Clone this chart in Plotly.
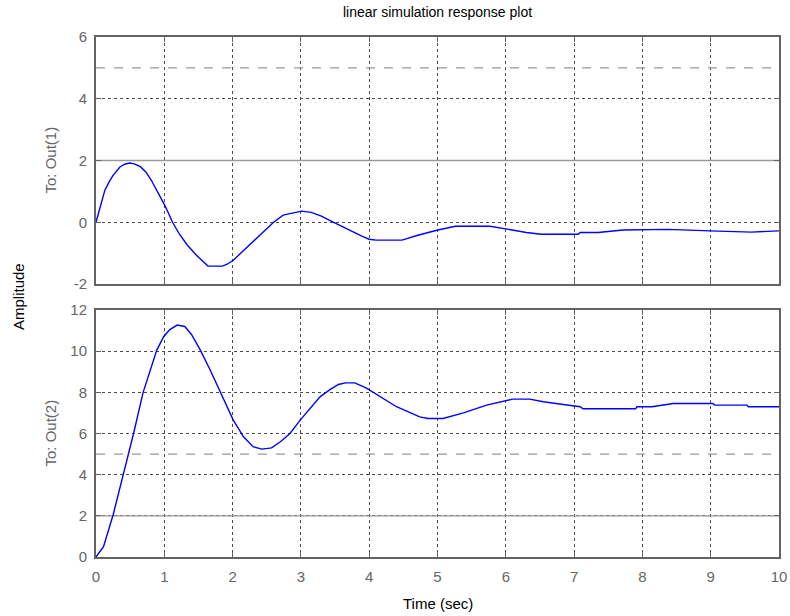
import plotly.graph_objects as go

# ---- data ----
t_out1 = [0, 0.06, 0.13, 0.19, 0.25, 0.35, 0.42, 0.49, 0.56, 0.65, 0.73, 0.81, 0.88, 0.94, 1.0,
          1.06, 1.12, 1.22, 1.33, 1.47, 1.56, 1.64, 1.85, 1.92, 2.01, 2.12, 2.25, 2.45, 2.6, 2.74,
          2.88, 3.01, 3.15, 3.3, 3.45, 3.6, 3.75, 3.9, 4.0, 4.1, 4.48, 4.7, 4.99, 5.15, 5.26,
          5.77, 5.99, 6.3, 6.52, 7.06, 7.09, 7.35, 7.72, 8.37, 8.99, 9.6, 10]
y_out1 = [0, 0.5, 1.04, 1.3, 1.52, 1.79, 1.88, 1.92, 1.89, 1.8, 1.63, 1.36, 1.08, 0.83, 0.58,
          0.3, 0.0, -0.38, -0.72, -1.07, -1.27, -1.42, -1.42, -1.36, -1.23, -1.0, -0.74, -0.31, 0.0, 0.23,
          0.31, 0.36, 0.32, 0.2, 0.03, -0.14, -0.3, -0.46, -0.55, -0.58, -0.58, -0.43, -0.26, -0.18, -0.13,
          -0.13, -0.22, -0.33, -0.39, -0.39, -0.33, -0.33, -0.25, -0.23, -0.28, -0.32, -0.28]

t_out2 = [0, 0.11, 0.25, 0.4, 0.55, 0.69, 0.89, 0.99, 1.08, 1.19, 1.3, 1.4, 1.52, 1.67, 1.82, 2.01,
          2.16, 2.3, 2.43, 2.57, 2.7, 2.84, 2.99, 3.14, 3.28, 3.43, 3.55, 3.65, 3.79, 3.96, 4.18,
          4.4, 4.74, 4.86, 5.08, 5.38, 5.72, 5.99, 6.1, 6.35, 6.55, 6.84, 7.09, 7.13, 7.9, 7.92,
          8.14, 8.45, 9.03, 9.06, 9.53, 9.55, 10]
y_out2 = [0, 0.5, 2.04, 3.98, 6.0, 8.0, 10.05, 10.7, 11.05, 11.27, 11.2, 10.8, 10.1, 9.1, 8.0, 6.65,
          5.84, 5.36, 5.24, 5.3, 5.6, 6.0, 6.65, 7.25, 7.78, 8.14, 8.38, 8.46, 8.46, 8.2, 7.75,
          7.3, 6.81, 6.73, 6.73, 7.0, 7.38, 7.59, 7.67, 7.67, 7.54, 7.41, 7.3, 7.2, 7.2, 7.3,
          7.3, 7.46, 7.46, 7.38, 7.38, 7.3, 7.3]

input_levels = [5, 2]          # grey input reference lines
input_dash = ["dash", "solid"]
x_ticks = list(range(0, 11))
y1_ticks = [-2, 0, 2, 4, 6]
y1_labels = ["-2", "0", "2", "4", "6"]
y2_ticks = [0, 2, 4, 6, 8, 10, 12]

FONT = "Liberation Sans, Arial, sans-serif"
GRID = "#4d4d4d"
FRAME = "#636363"
LABEL = "#666666"
BLUE = "#0000ff"
INPUT = "#999999"

fig = go.Figure()

for ax_x, ax_y in (("x", "y"), ("x2", "y2")):
    for lvl, dash in zip(input_levels, input_dash):
        fig.add_trace(go.Scatter(x=[x_ticks[0], x_ticks[-1]], y=[lvl, lvl], mode="lines",
                                 line=dict(color=INPUT, width=1.3, dash=dash),
                                 xaxis=ax_x, yaxis=ax_y, showlegend=False, hoverinfo="skip"))

fig.add_trace(go.Scatter(x=t_out1, y=y_out1, mode="lines", line=dict(color=BLUE, width=1.4),
                         xaxis="x", yaxis="y", showlegend=False))
fig.add_trace(go.Scatter(x=t_out2, y=y_out2, mode="lines", line=dict(color=BLUE, width=1.4),
                         xaxis="x2", yaxis="y2", showlegend=False))

common = dict(showline=True, mirror="ticks", linecolor=FRAME, linewidth=2,
              ticks="inside", ticklen=5, tickcolor=FRAME, tickwidth=1,
              showgrid=True, gridcolor=GRID, gridwidth=1, griddash="dot",
              zeroline=False, automargin=False,
              tickfont=dict(family=FONT, size=15, color=LABEL))

fig.update_layout(
    width=790, height=616,
    margin=dict(l=96, r=11, t=37, b=59),
    paper_bgcolor="white", plot_bgcolor="white",
    xaxis=dict(domain=[0, 1], range=[0, 10], tickvals=x_ticks, showticklabels=False,
               anchor="y", **common),
    yaxis=dict(domain=[0.525, 1], range=[-2, 6], tickvals=y1_ticks, ticktext=y1_labels,
               anchor="x", ticklabelstandoff=4, **common),
    xaxis2=dict(domain=[0, 1], range=[0, 10], tickvals=x_ticks, anchor="y2",
                ticklabelstandoff=5, **common),
    yaxis2=dict(domain=[0, 0.475], range=[0, 12], tickvals=y2_ticks, anchor="x2",
                ticklabelstandoff=4, **common),
    annotations=[
        dict(text="linear simulation response plot", xref="paper", yref="paper",
             x=0.5, y=1, yshift=25, xanchor="center", yanchor="middle", showarrow=False,
             font=dict(family=FONT, size=14, color="black")),
        dict(text="Time (sec)", xref="paper", yref="paper", x=0.5, y=0, yshift=-46,
             xanchor="center", yanchor="middle",
             showarrow=False, font=dict(family=FONT, size=15, color="black")),
        dict(text="Amplitude", xref="paper", yref="paper", x=0, xshift=-78, y=0.5,
             xanchor="center", yanchor="middle",
             textangle=-90, showarrow=False, font=dict(family=FONT, size=15, color="black")),
        dict(text="To: Out(1)", xref="paper", yref="paper", x=0, xshift=-46, y=0.7625,
             xanchor="center", yanchor="middle",
             textangle=-90, showarrow=False, font=dict(family=FONT, size=15, color=LABEL)),
        dict(text="To: Out(2)", xref="paper", yref="paper", x=0, xshift=-46, y=0.2375,
             xanchor="center", yanchor="middle",
             textangle=-90, showarrow=False, font=dict(family=FONT, size=15, color=LABEL)),
    ],
)

fig.write_html("out.html")
